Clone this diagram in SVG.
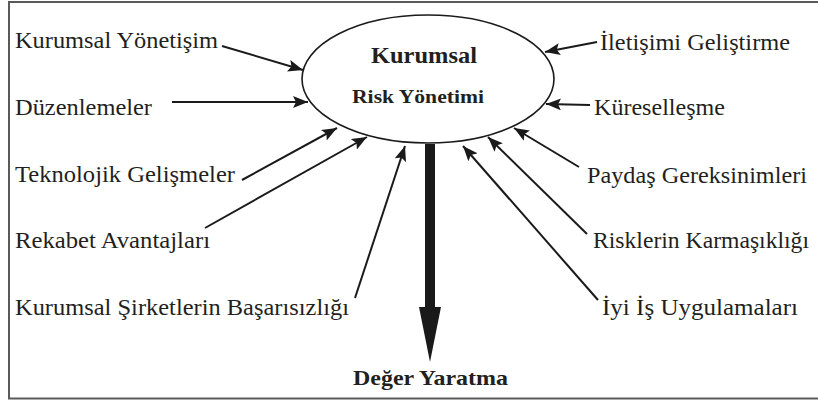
<svg xmlns="http://www.w3.org/2000/svg" width="818" height="401" viewBox="0 0 818 401">
<defs>
<marker id="ah" markerUnits="userSpaceOnUse" markerWidth="16" markerHeight="12" refX="15" refY="6" orient="auto">
<path d="M0,0 L15,6 L0,12 L3,6 Z" fill="#1a1a1a"/>
</marker>
<style>
.con line{stroke:#1a1a1a;stroke-width:2;marker-end:url(#ah)}
</style>
</defs>
<rect x="9" y="2" width="830" height="396.5" fill="#fff" stroke="#5a5a5a" stroke-width="2"/>
<g id="center">
<ellipse cx="428" cy="79" rx="126" ry="64" fill="#fff" stroke="#1a1a1a" stroke-width="1.6"/>
<text x="424" y="63" font-family="Liberation Serif" font-weight="bold" fill="#231f20" font-size="23" text-anchor="middle" textLength="106" lengthAdjust="spacingAndGlyphs">Kurumsal</text>
<text x="418" y="103" font-family="Liberation Serif" font-weight="bold" fill="#231f20" font-size="19" text-anchor="middle" textLength="132" lengthAdjust="spacingAndGlyphs">Risk Yönetimi</text>
</g>
<g class="con" id="connectors">
<line x1="222" y1="46" x2="303" y2="70"/>
<line x1="172" y1="102" x2="308" y2="102"/>
<line x1="242" y1="180" x2="337" y2="128"/>
<line x1="205" y1="228" x2="367" y2="137"/>
<line x1="355" y1="298" x2="405" y2="146"/>
<line x1="597" y1="42" x2="545" y2="52"/>
<line x1="590" y1="105" x2="546" y2="104"/>
<line x1="579" y1="167" x2="514" y2="128"/>
<line x1="587" y1="234" x2="488" y2="137"/>
<line x1="598" y1="300" x2="463" y2="146"/>
<path d="M425,144 L435,144 L435,307 L441,307 L430,362 L419,307 L425,307 Z" fill="#1a1a1a"/>
</g>
<g id="n1"><text x="15" y="48" font-family="Liberation Serif" font-size="22.5" fill="#231f20" textLength="203" lengthAdjust="spacingAndGlyphs">Kurumsal Yönetişim</text></g>
<g id="n2"><text x="15" y="115" font-family="Liberation Serif" font-size="22.5" fill="#231f20" textLength="137" lengthAdjust="spacingAndGlyphs">Düzenlemeler</text></g>
<g id="n3"><text x="15" y="182" font-family="Liberation Serif" font-size="22.5" fill="#231f20" textLength="220" lengthAdjust="spacingAndGlyphs">Teknolojik Gelişmeler</text></g>
<g id="n4"><text x="15" y="248" font-family="Liberation Serif" font-size="22.5" fill="#231f20" textLength="195" lengthAdjust="spacingAndGlyphs">Rekabet Avantajları</text></g>
<g id="n5"><text x="15" y="315" font-family="Liberation Serif" font-size="22.5" fill="#231f20" textLength="334" lengthAdjust="spacingAndGlyphs">Kurumsal Şirketlerin Başarısızlığı</text></g>
<g id="n6"><text x="600" y="50" font-family="Liberation Serif" font-size="22.5" fill="#231f20" textLength="190" lengthAdjust="spacingAndGlyphs">İletişimi Geliştirme</text></g>
<g id="n7"><text x="594" y="115" font-family="Liberation Serif" font-size="22.5" fill="#231f20" textLength="131" lengthAdjust="spacingAndGlyphs">Küreselleşme</text></g>
<g id="n8"><text x="587" y="183" font-family="Liberation Serif" font-size="22.5" fill="#231f20" textLength="220" lengthAdjust="spacingAndGlyphs">Paydaş Gereksinimleri</text></g>
<g id="n9"><text x="593" y="248" font-family="Liberation Serif" font-size="22.5" fill="#231f20" textLength="216" lengthAdjust="spacingAndGlyphs">Risklerin Karmaşıklığı</text></g>
<g id="n10"><text x="602" y="315" font-family="Liberation Serif" font-size="22.5" fill="#231f20" textLength="196" lengthAdjust="spacingAndGlyphs">İyi İş Uygulamaları</text></g>
<g id="n11"><text x="353" y="385" font-family="Liberation Serif" font-weight="bold" font-size="21" fill="#231f20" textLength="155" lengthAdjust="spacingAndGlyphs">Değer Yaratma</text></g>
</svg>
